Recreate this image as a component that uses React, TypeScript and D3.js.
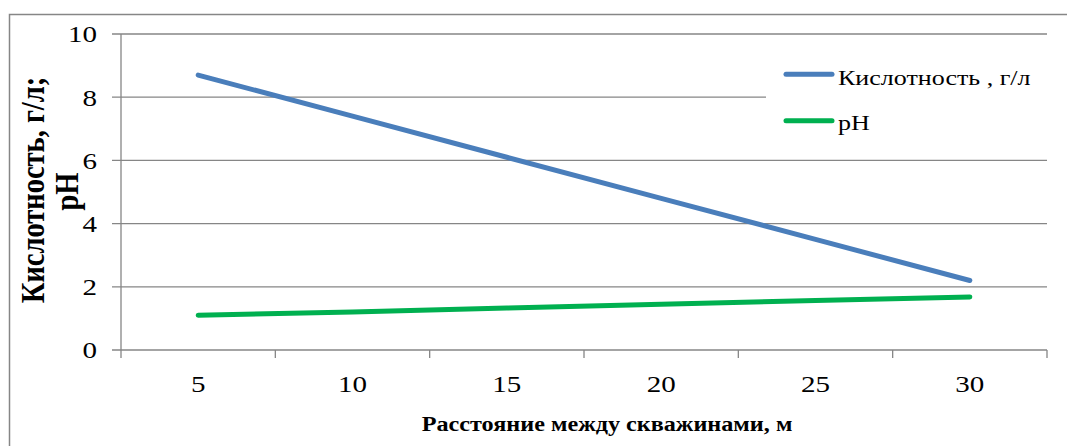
import React from "react";
import * as d3 from "d3";

const categories = ["5", "10", "15", "20", "25", "30"];
const acidity = [8.7, 7.4, 6.1, 4.8, 3.5, 2.2];
const ph = [1.1, 1.2, 1.33, 1.45, 1.57, 1.68];
const yTicks = [0, 2, 4, 6, 8, 10];
const seriesNames = ["Кислотность , г/л", "pH"];
const seriesColors = ["#4A7EBB", "#00B050"];

const FONT = "Liberation Serif, Times New Roman, serif";
const SX = 1.21; // the reference picture is stretched horizontally

export default function App() {
  const W = 1067, H = 446;
  const left = 121, right = 1047, top = 34, bottom = 350;
  const x = d3.scaleBand<string>().domain(categories).range([left, right]);
  const y = d3.scaleLinear().domain([0, 10]).range([bottom, top]);
  const cx = (c: string) => (x(c) as number) + x.bandwidth() / 2;
  const line = d3
    .line<number>()
    .x((_, i) => cx(categories[i]))
    .y((v) => y(v));
  const series = [acidity, ph];
  const grid = "#868686";
  const boundaries = categories.map((c) => x(c) as number).concat([right]);
  const ts = (size: number, bold = false): React.CSSProperties => ({
    fontFamily: FONT,
    fontSize: size,
    fontWeight: bold ? 700 : 400,
  });
  const hx = (px: number, py: number) => `translate(${px},${py}) scale(${SX},1)`;

  return (
    <svg width={W} height={H} style={{ position: "absolute", left: 0, top: 0 }}>
      <rect x={0} y={0} width={W} height={H} fill="#fff" />
      <rect x={9.5} y={14.5} width={W + 10} height={H + 10} fill="none" stroke={grid} strokeWidth={1.5} />
      {yTicks.map((t) => (
        <g key={t}>
          <line x1={112} x2={right} y1={y(t)} y2={y(t)} stroke={grid} strokeWidth={1.3} />
          <text transform={hx(97, y(t))} dy="0.35em" textAnchor="end" style={ts(24)} fill="#000">
            {t}
          </text>
        </g>
      ))}
      <line x1={left} x2={left} y1={top} y2={bottom} stroke={grid} strokeWidth={1.3} />
      {boundaries.map((b, i) => (
        <line key={i} x1={b} x2={b} y1={bottom} y2={358} stroke={grid} strokeWidth={1.3} />
      ))}
      {categories.map((c) => (
        <text key={c} transform={hx(cx(c), 392)} textAnchor="middle" style={ts(24)} fill="#000">
          {c}
        </text>
      ))}
      <rect x={766} y={50} width={right - 766} height={95} fill="#fff" />
      {series.map((s, i) => (
        <path
          key={i}
          d={line(s) as string}
          fill="none"
          stroke={seriesColors[i]}
          strokeWidth={5}
          strokeLinecap="round"
          strokeLinejoin="round"
        />
      ))}
      {seriesNames.map((n, i) => (
        <g key={n}>
          <line x1={786} x2={832} y1={74.3 + i * 46.4} y2={74.3 + i * 46.4} stroke={seriesColors[i]} strokeWidth={5} strokeLinecap="round" />
          <text transform={hx(838, 85 + i * 45)} style={ts(21.5)} fill="#000">
            {n}
          </text>
        </g>
      ))}
      <text transform={hx(607, 431)} textAnchor="middle" style={ts(20, true)} fill="#000">
        Расстояние между скважинами, м
      </text>
      <text transform={`translate(43.5,190) scale(${SX},1) rotate(-90)`} textAnchor="middle" style={ts(28.5, true)} fill="#000">
        Кислотность, г/л;
      </text>
      <text transform={`translate(78,191.5) scale(${SX},1) rotate(-90)`} textAnchor="middle" style={ts(28.5, true)} fill="#000">
        pH
      </text>
    </svg>
  );
}
